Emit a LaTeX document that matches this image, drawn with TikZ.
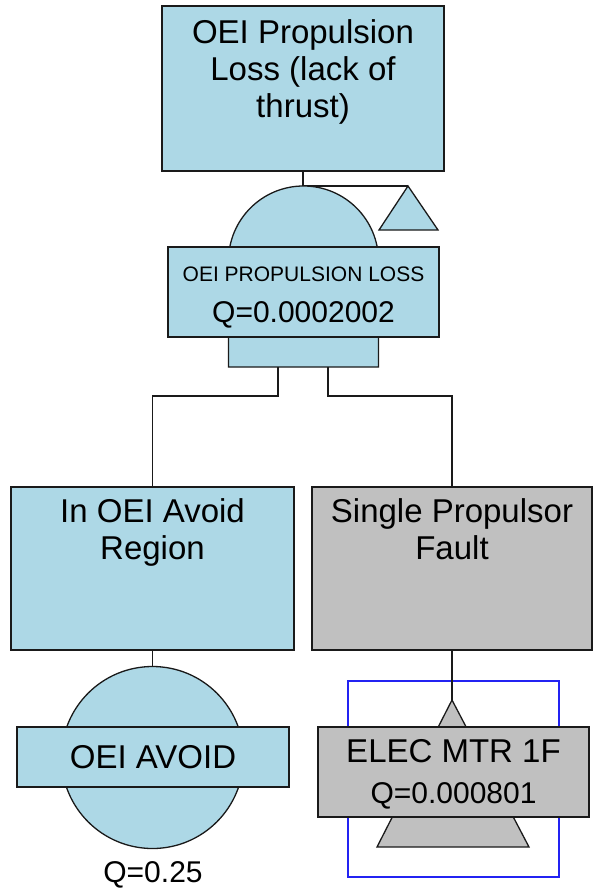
\documentclass[tikz,border=0pt]{standalone}
\usepackage{fontspec}
\setmainfont{Liberation Sans}
\usepackage{tikz}
\usetikzlibrary{calc}

\begin{document}
\begin{tikzpicture}[x=1pt,y=1pt,
  evbox/.style={rectangle, draw=colBordo, line width=1.5pt, inner sep=0pt},
  linea/.style={draw=colBordo, line width=1.3pt},
  txtgrande/.style={font=\fontsize{33}{37}\selectfont, align=center, inner sep=0pt},
  txtq/.style={font=\fontsize{30}{34}\selectfont, inner sep=0pt}]

% Colori
\definecolor{colEvento}{HTML}{ADD8E6}
\definecolor{colGrigio}{HTML}{C0C0C0}
\definecolor{colBordo}{HTML}{1A1A1A}
\definecolor{colTrasf}{HTML}{2323F2}

\useasboundingbox (0,0) rectangle (592,-891);

% Evento di vertice
\node[evbox, fill=colEvento, minimum width=282pt, minimum height=165pt] (top) at (303,-88.5) {};
\node[txtgrande, anchor=north] (topTxt) at (303,-19.5) {OEI Propulsion\\Loss (lack of\\thrust)};

% Porta AND con triangolo di trasferimento
\coordinate (gIn) at (303,-186);
\coordinate (trApice) at (408,-186);
\draw[linea] (top.south) -- (gIn) -- (trApice);
\path[fill=colEvento, linea] (trApice) -- (379,-230) -- (438,-230) -- cycle;

\path[fill=colEvento, linea]
(228.5,-367) -- (228.5,-261) arc[start angle=180,end angle=0,radius=75] -- (378.5,-367) -- cycle;

\node[evbox, fill=colEvento, minimum width=271pt, minimum height=90pt] (gateLbl) at (303.5,-292) {};
\node[font=\fontsize{21}{25}\selectfont, inner sep=0pt, anchor=base] (gateNome) at (303.5,-281) {OEI PROPULSION LOSS};
\node[txtq, anchor=base] (gateQ) at (303.5,-322) {Q=0.0002002};

% Uscite della porta
\coordinate (gOutL) at (278,-367);
\coordinate (gOutR) at (328,-367);

% Eventi figli
\node[evbox, fill=colEvento, minimum width=283pt, minimum height=163pt] (avoid) at (152.5,-568.5) {};
\node[txtgrande, anchor=north] (avoidTxt) at (152.5,-498.5) {In OEI Avoid\\Region};

\node[evbox, fill=colGrigio, minimum width=280pt, minimum height=163pt] (spf) at (452,-568.5) {};
\node[txtgrande, anchor=north] (spfTxt) at (452,-498.5) {Single Propulsor\\Fault};

\draw[linea] (gOutL) -- ++(0,-29) -| (avoid.north);
\draw[linea] (gOutR) -- ++(0,-29) -| (spf.north);

% Evento base (cerchio)
\node[circle, draw=colBordo, line width=1.3pt, fill=colEvento, minimum size=182pt, inner sep=0pt] (avCerchio) at (152.5,-757.5) {};
\draw[linea] (avoid.south) -- (avCerchio.north);
\node[evbox, fill=colEvento, minimum width=272pt, minimum height=60pt] (avLbl) at (153,-757) {};
\node[txtgrande, anchor=base] (avNome) at (153,-768) {OEI AVOID};
\node[txtq, anchor=base] (avQ) at (153,-882) {Q=0.25};

% Trasferimento in ingresso (triangolo)
\coordinate (mtrApice) at (452,-700);
\draw[colTrasf, line width=1.2pt] (348,-681) rectangle (559,-877);
\draw[linea] (spf.south) -- (mtrApice);
\path[fill=colGrigio, linea] (mtrApice) -- (377,-847) -- (529,-847) -- cycle;

\node[evbox, fill=colGrigio, minimum width=271pt, minimum height=90pt] (mtrLbl) at (453.5,-772) {};
\node[txtgrande, anchor=base] (mtrNome) at (453.5,-762) {ELEC MTR 1F};
\node[txtq, anchor=base] (mtrQ) at (453.5,-803) {Q=0.000801};

\end{tikzpicture}
\end{document}
